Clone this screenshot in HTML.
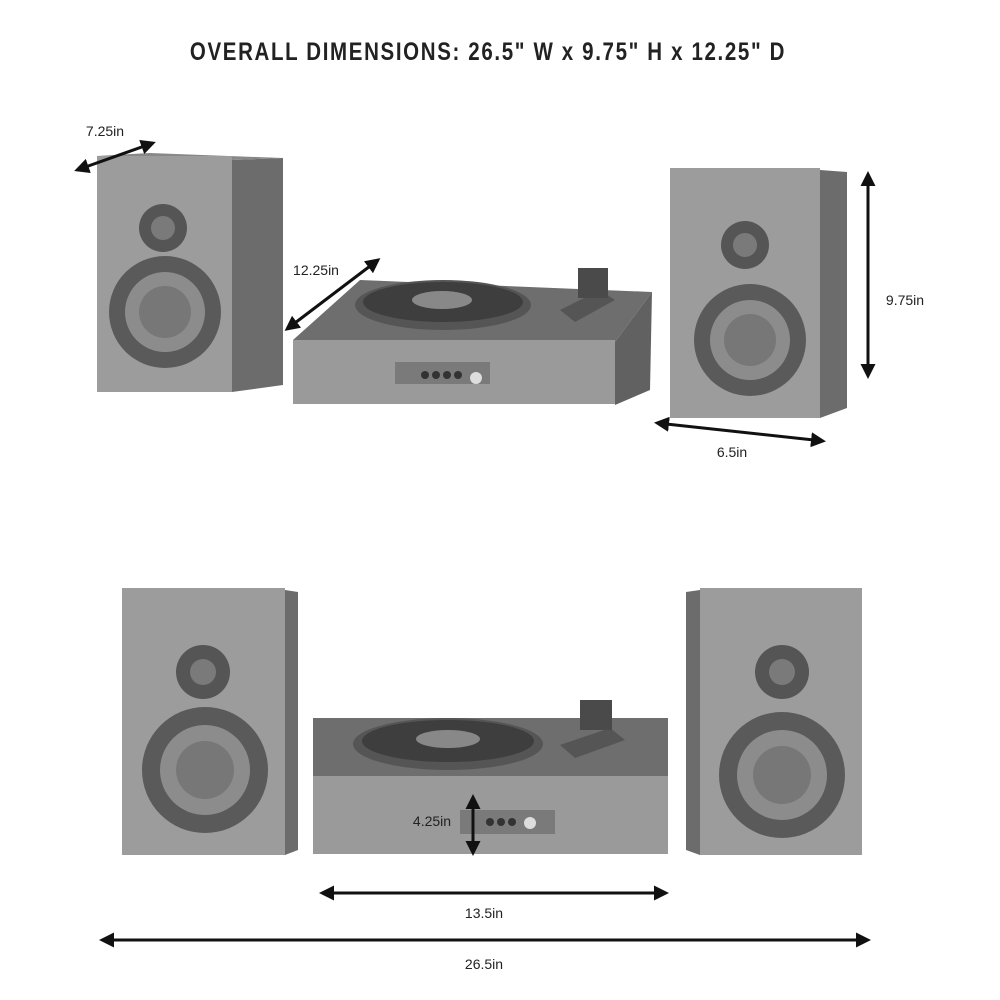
<!DOCTYPE html>
<html><head><style>
html,body{margin:0;padding:0;background:#fff;width:1000px;height:1000px;overflow:hidden}
svg{display:block}
text{font-family:"Liberation Sans",sans-serif}
</style></head><body>
<svg width="1000" height="1000" viewBox="0 0 1000 1000" xmlns="http://www.w3.org/2000/svg">
<defs>
<marker id="ah" viewBox="0 0 10 10" refX="8" refY="5" markerWidth="5" markerHeight="5" orient="auto-start-reverse"><path d="M0,0 L10,5 L0,10 z" fill="#111"/></marker>
</defs>
<rect width="1000" height="1000" fill="#fff"/>
<text x="488" y="60" text-anchor="middle" font-size="25" font-weight="bold" fill="#222" letter-spacing="2" transform="translate(488 0) scale(0.82 1) translate(-488 0)">OVERALL DIMENSIONS: 26.5" W x 9.75" H x 12.25" D</text>

<!-- top left speaker -->
<polygon points="232,160 283,158 283,385 232,392" fill="#6c6c6c"/>
<polygon points="97,156 232,160 283,158 150,153" fill="#888"/>
<rect x="97" y="156" width="135" height="236" fill="#9c9c9c"/>
<circle cx="163" cy="228" r="24" fill="#555"/><circle cx="163" cy="228" r="12" fill="#7a7a7a"/>
<circle cx="165" cy="312" r="56" fill="#5a5a5a"/><circle cx="165" cy="312" r="40" fill="#8c8c8c"/><circle cx="165" cy="312" r="26" fill="#777"/>

<!-- top right speaker -->
<polygon points="820,170 847,172 847,408 820,418" fill="#6c6c6c"/>
<rect x="670" y="168" width="150" height="250" fill="#9c9c9c"/>
<circle cx="745" cy="245" r="24" fill="#555"/><circle cx="745" cy="245" r="12" fill="#7a7a7a"/>
<circle cx="750" cy="340" r="56" fill="#5a5a5a"/><circle cx="750" cy="340" r="40" fill="#8c8c8c"/><circle cx="750" cy="340" r="26" fill="#777"/>

<!-- top turntable -->
<polygon points="360,280 652,292 615,342 293,340" fill="#6e6e6e"/>
<polygon points="615,342 652,292 650,390 615,405" fill="#616161"/>
<rect x="293" y="340" width="322" height="64" fill="#9a9a9a"/>
<rect x="395" y="362" width="95" height="22" fill="#7a7a7a"/>
<circle cx="425" cy="375" r="4" fill="#333"/><circle cx="436" cy="375" r="4" fill="#333"/><circle cx="447" cy="375" r="4" fill="#333"/><circle cx="458" cy="375" r="4" fill="#333"/><circle cx="476" cy="378" r="6" fill="#ddd"/>
<ellipse cx="443" cy="305" rx="88" ry="25" fill="#555"/><ellipse cx="443" cy="302" rx="80" ry="20" fill="#3e3e3e"/><ellipse cx="442" cy="300" rx="30" ry="9" fill="#888"/>
<polygon points="560,310 600,290 615,300 575,322" fill="#555"/>
<rect x="578" y="268" width="30" height="30" fill="#4a4a4a"/>

<!-- bottom left speaker -->
<polygon points="285,590 298,592 298,850 285,855" fill="#6c6c6c"/>
<rect x="122" y="588" width="163" height="267" fill="#9c9c9c"/>
<circle cx="203" cy="672" r="27" fill="#555"/><circle cx="203" cy="672" r="13" fill="#7a7a7a"/>
<circle cx="205" cy="770" r="63" fill="#5a5a5a"/><circle cx="205" cy="770" r="45" fill="#8c8c8c"/><circle cx="205" cy="770" r="29" fill="#777"/>

<!-- bottom right speaker -->
<polygon points="686,592 700,590 700,855 686,850" fill="#6c6c6c"/>
<rect x="700" y="588" width="162" height="267" fill="#9c9c9c"/>
<circle cx="782" cy="672" r="27" fill="#555"/><circle cx="782" cy="672" r="13" fill="#7a7a7a"/>
<circle cx="782" cy="775" r="63" fill="#5a5a5a"/><circle cx="782" cy="775" r="45" fill="#8c8c8c"/><circle cx="782" cy="775" r="29" fill="#777"/>

<!-- bottom turntable -->
<rect x="313" y="718" width="355" height="58" fill="#6e6e6e"/>
<rect x="313" y="776" width="355" height="78" fill="#9a9a9a"/>
<rect x="460" y="810" width="95" height="24" fill="#7a7a7a"/>
<circle cx="490" cy="822" r="4" fill="#333"/><circle cx="501" cy="822" r="4" fill="#333"/><circle cx="512" cy="822" r="4" fill="#333"/><circle cx="530" cy="823" r="6" fill="#ddd"/>
<ellipse cx="448" cy="744" rx="95" ry="26" fill="#555"/><ellipse cx="448" cy="741" rx="86" ry="21" fill="#3e3e3e"/><ellipse cx="448" cy="739" rx="32" ry="9" fill="#888"/>
<polygon points="560,745 610,728 625,740 575,758" fill="#555"/>
<rect x="580" y="700" width="32" height="30" fill="#4a4a4a"/>

<!-- arrows -->
<g stroke="#111" stroke-width="3" fill="none" marker-start="url(#ah)" marker-end="url(#ah)">
<line x1="77" y1="170" x2="153" y2="143"/>
<line x1="287" y1="329" x2="378" y2="260"/>
<line x1="868" y1="174" x2="868" y2="376"/>
<line x1="657" y1="423" x2="823" y2="441"/>
<line x1="473" y1="797" x2="473" y2="853"/>
<line x1="322" y1="893" x2="666" y2="893"/>
<line x1="102" y1="940" x2="868" y2="940"/>
</g>
<g font-size="14" fill="#222" text-anchor="middle">
<text x="105" y="136">7.25in</text>
<text x="316" y="275">12.25in</text>
<text x="905" y="305">9.75in</text>
<text x="732" y="457">6.5in</text>
<text x="432" y="826">4.25in</text>
<text x="484" y="918">13.5in</text>
<text x="484" y="969">26.5in</text>
</g>
</svg>
</body></html>
